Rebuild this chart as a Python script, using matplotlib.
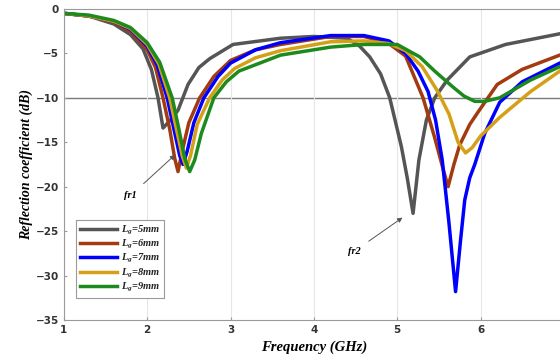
import matplotlib

matplotlib.use("Agg")
import matplotlib.pyplot as plt

plt.rcParams["mathtext.fontset"] = "custom"
plt.rcParams["mathtext.rm"] = "Liberation Serif:bold:italic"
plt.rcParams["mathtext.it"] = "Liberation Serif:bold:italic"

# (GHz, dB)
f_lg5 = [1.0, 1.3, 1.6, 1.8, 1.95, 2.05, 2.13, 2.19, 2.28, 2.37, 2.49, 2.62, 2.75, 3.03,
         3.6, 4.0, 4.4, 4.55, 4.67, 4.8, 4.91, 5.05, 5.12, 5.19, 5.26, 5.35, 5.45, 5.6,
         5.87, 6.3, 6.95]
s_lg5 = [-0.5, -0.8, -1.7, -2.9, -4.5, -6.8, -10, -13.4, -12.5, -11.4, -8.5, -6.6, -5.6, -4.0,
         -3.3, -3.1, -3.3, -4.2, -5.4, -7.3, -10, -15.5, -19, -23, -17, -12.5, -10, -8,
         -5.4, -4.0, -2.8]

f_lg6 = [1.0, 1.3, 1.6, 1.8, 2.0, 2.1, 2.19, 2.27, 2.33, 2.37, 2.42, 2.5, 2.63, 2.8, 3.0,
         3.3, 3.6, 4.2, 4.6, 4.9, 5.1, 5.31, 5.45, 5.55, 5.61, 5.68, 5.75, 5.87, 5.97, 6.2,
         6.5, 6.95]
s_lg6 = [-0.5, -0.8, -1.5, -2.5, -4.6, -6.6, -10, -13.5, -16.8, -18.3, -16, -12.8, -10, -7.6,
         -5.8, -4.6, -4.0, -3.1, -3.1, -3.9, -5.3, -10, -14.5, -18, -20, -17.5, -15.3, -13,
         -11.6, -8.5, -6.8, -5.2]

f_lg7 = [1.0, 1.3, 1.6, 1.8, 2.0, 2.12, 2.24, 2.32, 2.39, 2.43, 2.48, 2.56, 2.68, 2.85, 3.0,
         3.3, 3.6, 4.2, 4.6, 4.9, 5.1, 5.25, 5.37, 5.46, 5.54, 5.62, 5.70, 5.76, 5.81, 5.87,
         5.93, 6.05, 6.23, 6.5, 6.95]
s_lg7 = [-0.5, -0.8, -1.4, -2.3, -4.2, -6.3, -10, -13.5, -16.5, -17.5, -16, -12.8, -10, -7.6,
         -6.1, -4.6, -3.8, -3.0, -3.0, -3.6, -5.0, -7.0, -9.3, -12.5, -17, -24, -31.8, -26,
         -21.5, -19, -17.5, -14, -10.5, -8.2, -6.1]

f_lg8 = [1.0, 1.3, 1.6, 1.8, 2.0, 2.14, 2.27, 2.35, 2.42, 2.47, 2.52, 2.6, 2.75, 2.9, 3.05,
         3.3, 3.6, 4.2, 4.6, 4.9, 5.1, 5.3, 5.48, 5.62, 5.73, 5.82, 5.9, 6.0, 6.23, 6.6, 6.95]
s_lg8 = [-0.5, -0.8, -1.4, -2.2, -4.0, -6.2, -10, -13.5, -16.5, -17.9, -16.5, -13, -10, -8,
         -6.7, -5.5, -4.7, -3.7, -3.6, -3.9, -4.7, -6.5, -9.2, -11.8, -15, -16.2, -15.6,
         -14.3, -12.2, -9.3, -7.0]

f_lg9 = [1.0, 1.3, 1.6, 1.8, 2.0, 2.15, 2.3, 2.38, 2.45, 2.51, 2.57, 2.65, 2.8, 2.95, 3.1,
         3.6, 4.2, 4.6, 5.0, 5.27, 5.45, 5.67, 5.8, 5.93, 6.05, 6.23, 6.6, 6.95]
s_lg9 = [-0.5, -0.7, -1.3, -2.1, -3.8, -6, -10, -13.5, -16.8, -18.3, -17, -14, -10, -8.2,
         -7.0, -5.2, -4.3, -4.0, -4.0, -5.4, -7.0, -8.8, -9.8, -10.4, -10.4, -10, -8, -6.5]

labels = [r"$L_g$=5mm", r"$L_g$=6mm", r"$L_g$=7mm", r"$L_g$=8mm", r"$L_g$=9mm"]
colors = ["#555555", "#a33a10", "#0000ff", "#d4a017", "#1d8a1d"]
series = [(f_lg5, s_lg5), (f_lg6, s_lg6), (f_lg7, s_lg7), (f_lg8, s_lg8), (f_lg9, s_lg9)]

fig = plt.figure(figsize=(5.6, 3.56), dpi=100)
ax = fig.add_axes([0.114, 0.101, 0.893, 0.874])

for (f, s), color, label in zip(series, colors, labels):
    ax.plot(f, s, color=color, linewidth=2.5, label=label, solid_joinstyle="round")

ax.set_xlim(1, 7)
ax.set_ylim(-35, 0)
ax.set_xticks(range(1, 8))
ax.set_yticks(range(-35, 1, 5))
ax.grid(axis="x", color="#e6e6e6", linewidth=0.8)
ax.axhline(-10, color="#7a7a7a", linewidth=1.0, zorder=0.5)
for sp in ax.spines.values():
    sp.set_color("#9a9a9a")
ax.tick_params(direction="in", length=2, colors="#9a9a9a", labelcolor="#333333",
               labelsize=7.5)
for t in ax.get_xticklabels() + ax.get_yticklabels():
    t.set_fontweight("bold")

serif = dict(family="Liberation Serif", weight="bold", style="italic")
ax.set_xlabel("Frequency (GHz)", fontsize=10.5, labelpad=4, **serif)
ax.set_ylabel("Reflection coefficient (dB)", fontsize=10, labelpad=2, **serif)

ax.annotate("fr1", xy=(2.36, -16.2), xytext=(1.8, -21.0), fontsize=7.5, ha="center",
            va="center", arrowprops=dict(arrowstyle="-|>", color="#555555", lw=0.7,
                                         mutation_scale=7, shrinkA=5), **serif)
ax.annotate("fr2", xy=(5.09, -23.3), xytext=(4.48, -27.3), fontsize=7.5, ha="center",
            va="center", arrowprops=dict(arrowstyle="-|>", color="#555555", lw=0.7,
                                         mutation_scale=7, shrinkA=5), **serif)

leg = ax.legend(loc="lower left", bbox_to_anchor=(0.014, 0.055),
                prop=dict(family="Liberation Serif", weight="bold", style="italic", size=7.5),
                handlelength=3.6, labelspacing=0.12, borderpad=0.35, handletextpad=0.4,
                fancybox=False, edgecolor="#9a9a9a", framealpha=1)
leg.get_frame().set_linewidth(0.8)
for t in leg.get_texts():
    t.set_color("#222222")

fig.savefig("out.png", dpi=100)
